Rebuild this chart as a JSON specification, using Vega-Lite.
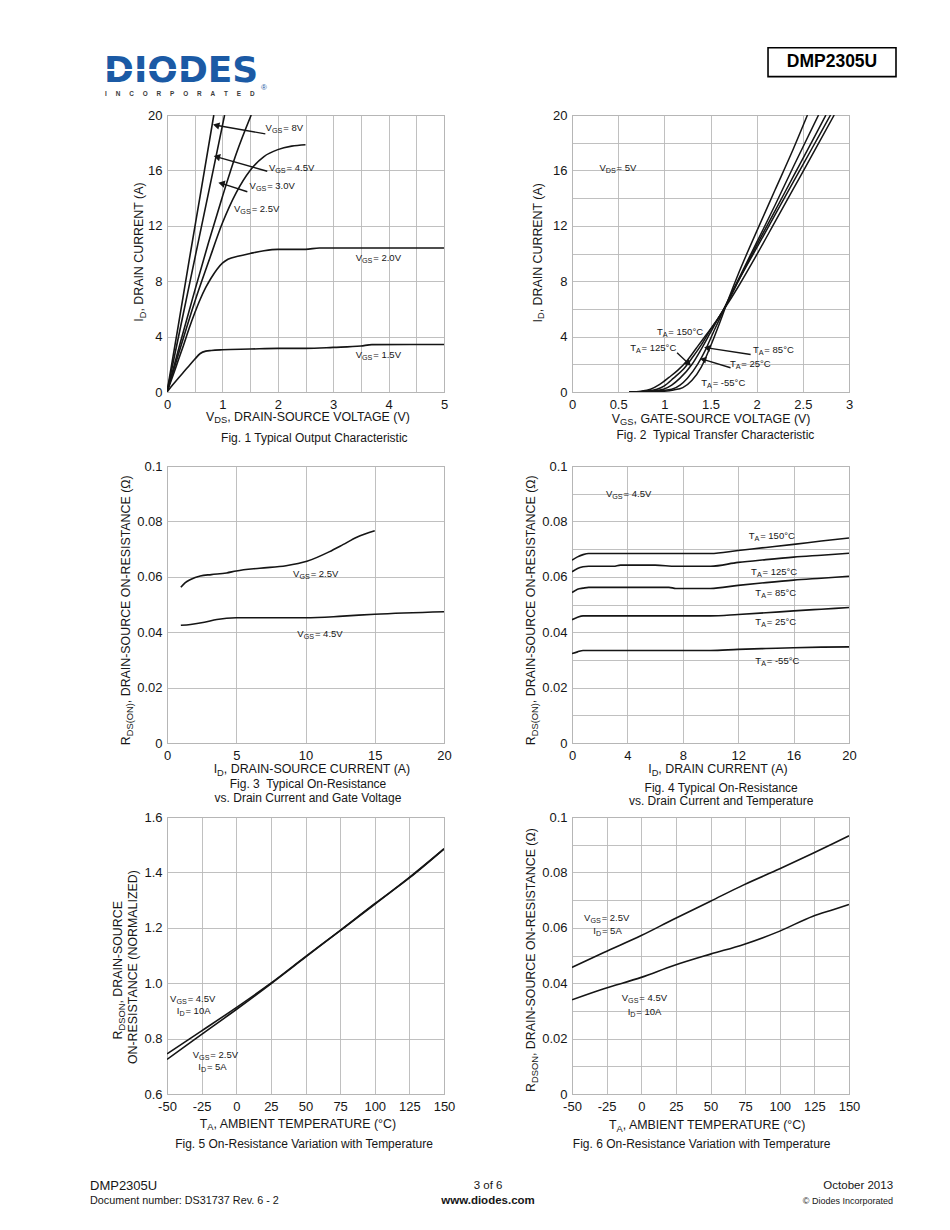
{
"$schema": "https://vega.github.io/schema/vega-lite/v6.json",
"autosize": {"type": "none"},
"padding": {"left": 167, "top": 115, "right": 783, "bottom": 1115},
"background": "#ffffff",
"columns": 2,
"bounds": "flush",
"spacing": {"row": 74, "column": 128},
"config": {
  "view": {"stroke": "#9a9a9a", "strokeWidth": 1},
  "axis": {"domain": false, "ticks": false, "grid": true, "gridColor": "#b9b9b9", "gridWidth": 0.9, "labelFont": "Liberation Sans", "labelFontSize": 13, "labelColor": "#161616", "labelPadding": 4, "labelOverlap": false, "labelFlush": false, "labelBound": false, "tickCount": 60},
  "axisX": {"labelPadding": 6},
  "axisY": {"labelPadding": 5},
  "text": {"font": "Liberation Sans", "color": "#161616"}
},
"datasets": {
  "one": [{"k": 1}],
  "c1": [
    {"s":"8V","x":0,"y":0},{"s":"8V","x":0.2,"y":4.7},{"s":"8V","x":0.4,"y":9.5},{"s":"8V","x":0.6,"y":14.2},{"s":"8V","x":0.845,"y":20},
    {"s":"4.5V","x":0,"y":0},{"s":"4.5V","x":0.25,"y":4.8},{"s":"4.5V","x":0.5,"y":9.6},{"s":"4.5V","x":0.75,"y":14.4},{"s":"4.5V","x":1.04,"y":20},
    {"s":"3.0V","x":0,"y":0},{"s":"3.0V","x":0.25,"y":3.7},{"s":"3.0V","x":0.5,"y":7.3},{"s":"3.0V","x":0.75,"y":10.8},{"s":"3.0V","x":1.0,"y":14.1},{"s":"3.0V","x":1.25,"y":17.2},{"s":"3.0V","x":1.52,"y":20},
    {"s":"2.5V","x":0,"y":0},{"s":"2.5V","x":0.25,"y":3.3},{"s":"2.5V","x":0.5,"y":6.5},{"s":"2.5V","x":0.75,"y":9.4},{"s":"2.5V","x":1.0,"y":12.2},{"s":"2.5V","x":1.25,"y":14.4},{"s":"2.5V","x":1.5,"y":16.0},{"s":"2.5V","x":1.75,"y":17.0},{"s":"2.5V","x":2.0,"y":17.5},{"s":"2.5V","x":2.25,"y":17.75},{"s":"2.5V","x":2.5,"y":17.85},
    {"s":"2.0V","x":0,"y":0},{"s":"2.0V","x":0.1,"y":1.1},{"s":"2.0V","x":0.2,"y":2.25},{"s":"2.0V","x":0.3,"y":3.4},{"s":"2.0V","x":0.4,"y":4.6},{"s":"2.0V","x":0.5,"y":5.7},{"s":"2.0V","x":0.6,"y":6.7},{"s":"2.0V","x":0.7,"y":7.55},{"s":"2.0V","x":0.8,"y":8.25},{"s":"2.0V","x":0.9,"y":8.85},{"s":"2.0V","x":1.0,"y":9.3},{"s":"2.0V","x":1.1,"y":9.58},{"s":"2.0V","x":1.3,"y":9.82},{"s":"2.0V","x":1.5,"y":10.0},{"s":"2.0V","x":1.75,"y":10.2},{"s":"2.0V","x":2.0,"y":10.3},{"s":"2.0V","x":2.5,"y":10.3},{"s":"2.0V","x":2.75,"y":10.4},{"s":"2.0V","x":5,"y":10.4},
    {"s":"1.5V","x":0,"y":0},{"s":"1.5V","x":0.1,"y":0.5},{"s":"1.5V","x":0.2,"y":0.98},{"s":"1.5V","x":0.3,"y":1.44},{"s":"1.5V","x":0.4,"y":1.9},{"s":"1.5V","x":0.5,"y":2.36},{"s":"1.5V","x":0.6,"y":2.78},{"s":"1.5V","x":0.7,"y":2.95},{"s":"1.5V","x":0.8,"y":3.0},{"s":"1.5V","x":1.0,"y":3.05},{"s":"1.5V","x":1.5,"y":3.1},{"s":"1.5V","x":2.0,"y":3.15},{"s":"1.5V","x":2.5,"y":3.15},{"s":"1.5V","x":3.0,"y":3.22},{"s":"1.5V","x":3.5,"y":3.32},{"s":"1.5V","x":3.7,"y":3.42},{"s":"1.5V","x":5.0,"y":3.43}
  ],
  "l1": [
    {"t":"VGS","x":1.78,"y":19.03,"r":"\u00a0= 8V"},{"t":"VGS","x":1.84,"y":16.2,"r":"\u00a0= 4.5V"},{"t":"VGS","x":1.49,"y":14.86,"r":"\u00a0= 3.0V"},
    {"t":"VGS","x":1.21,"y":13.18,"r":"\u00a0= 2.5V"},{"t":"VGS","x":3.405,"y":9.64,"r":"\u00a0= 2.0V"},{"t":"VGS","x":3.405,"y":2.65,"r":"\u00a0= 1.5V"}
  ],
  "a1": [
    {"xa":1.775,"ya":18.64,"xb":0.887,"yb":19.26},{"xa":1.81,"ya":15.94,"xb":0.9,"yb":16.98},{"xa":1.45,"ya":14.46,"xb":0.984,"yb":15.06}
  ],
  "c2": [
    {"s":"-55","x":0.62,"y":0},{"s":"-55","x":0.9,"y":0.02},{"s":"-55","x":1.0,"y":0.06},{"s":"-55","x":1.1,"y":0.15},{"s":"-55","x":1.2,"y":0.32},{"s":"-55","x":1.3,"y":0.85},{"s":"-55","x":1.4,"y":1.8},{"s":"-55","x":1.5,"y":3.3},{"s":"-55","x":1.6,"y":5.0},{"s":"-55","x":1.7,"y":6.8},{"s":"-55","x":1.8,"y":8.5},{"s":"-55","x":2.0,"y":11.6},{"s":"-55","x":2.2,"y":14.6},{"s":"-55","x":2.4,"y":17.6},{"s":"-55","x":2.55,"y":20},
    {"s":"25","x":0.62,"y":0},{"s":"25","x":0.9,"y":0.06},{"s":"25","x":1.08,"y":0.2},{"s":"25","x":1.17,"y":0.5},{"s":"25","x":1.25,"y":1.0},{"s":"25","x":1.36,"y":2.0},{"s":"25","x":1.45,"y":3.1},{"s":"25","x":1.53,"y":4.3},{"s":"25","x":1.6,"y":5.3},{"s":"25","x":1.65,"y":6.05},{"s":"25","x":1.8,"y":8.1},{"s":"25","x":2.0,"y":10.8},{"s":"25","x":2.2,"y":13.5},{"s":"25","x":2.4,"y":16.3},{"s":"25","x":2.67,"y":20},
    {"s":"85","x":0.62,"y":0},{"s":"85","x":0.85,"y":0.06},{"s":"85","x":0.99,"y":0.2},{"s":"85","x":1.08,"y":0.5},{"s":"85","x":1.17,"y":1.0},{"s":"85","x":1.3,"y":2.0},{"s":"85","x":1.4,"y":3.1},{"s":"85","x":1.5,"y":4.3},{"s":"85","x":1.6,"y":5.5},{"s":"85","x":1.65,"y":6.05},{"s":"85","x":1.8,"y":8.0},{"s":"85","x":2.0,"y":10.6},{"s":"85","x":2.2,"y":13.1},{"s":"85","x":2.4,"y":15.6},{"s":"85","x":2.6,"y":18.1},{"s":"85","x":2.75,"y":20},
    {"s":"125","x":0.62,"y":0},{"s":"125","x":0.8,"y":0.06},{"s":"125","x":0.92,"y":0.2},{"s":"125","x":1.0,"y":0.45},{"s":"125","x":1.1,"y":1.0},{"s":"125","x":1.2,"y":1.6},{"s":"125","x":1.3,"y":2.45},{"s":"125","x":1.4,"y":3.4},{"s":"125","x":1.5,"y":4.5},{"s":"125","x":1.6,"y":5.5},{"s":"125","x":1.65,"y":6.05},{"s":"125","x":1.8,"y":8.0},{"s":"125","x":2.0,"y":10.4},{"s":"125","x":2.2,"y":12.8},{"s":"125","x":2.4,"y":15.2},{"s":"125","x":2.6,"y":17.6},{"s":"125","x":2.8,"y":20},
    {"s":"150","x":0.62,"y":0},{"s":"150","x":0.75,"y":0.06},{"s":"150","x":0.85,"y":0.2},{"s":"150","x":0.95,"y":0.55},{"s":"150","x":1.05,"y":1.05},{"s":"150","x":1.15,"y":1.6},{"s":"150","x":1.25,"y":2.3},{"s":"150","x":1.35,"y":3.2},{"s":"150","x":1.45,"y":4.1},{"s":"150","x":1.55,"y":5.0},{"s":"150","x":1.65,"y":6.0},{"s":"150","x":1.8,"y":7.6},{"s":"150","x":2.0,"y":9.9},{"s":"150","x":2.2,"y":12.3},{"s":"150","x":2.4,"y":14.7},{"s":"150","x":2.6,"y":17.1},{"s":"150","x":2.84,"y":20}
  ],
  "l2": [
    {"t":"VDS","x":0.297,"y":16.19,"r":"\u00a0= 5V"},{"t":"TA","x":0.92,"y":4.32,"r":"\u00a0= 150°C"},{"t":"TA","x":0.63,"y":3.19,"r":"\u00a0= 125°C"},
    {"t":"TA","x":1.96,"y":3.0,"r":"\u00a0= 85°C"},{"t":"TA","x":1.71,"y":2.04,"r":"\u00a0= 25°C"},{"t":"TA","x":1.4,"y":0.66,"r":"\u00a0= -55°C"}
  ],
  "a2": [
    {"k":"L","xa":1.935,"ya":2.71,"xb":1.464,"yb":3.19},{"k":"L","xa":1.717,"ya":1.75,"xb":1.42,"yb":2.35},{"k":"R","xa":1.138,"ya":2.83,"xb":1.264,"yb":2.04}
  ],
  "c3": [
    {"s":"2.5V","x":1.0,"y":0.0562},{"s":"2.5V","x":1.3,"y":0.0578},{"s":"2.5V","x":1.7,"y":0.059},{"s":"2.5V","x":2.4,"y":0.0603},{"s":"2.5V","x":3.2,"y":0.0608},{"s":"2.5V","x":4.3,"y":0.0614},{"s":"2.5V","x":5.0,"y":0.0621},{"s":"2.5V","x":6.7,"y":0.0631},{"s":"2.5V","x":8.6,"y":0.064},{"s":"2.5V","x":10.1,"y":0.0656},{"s":"2.5V","x":11.7,"y":0.069},{"s":"2.5V","x":12.7,"y":0.0716},{"s":"2.5V","x":13.7,"y":0.0743},{"s":"2.5V","x":15.0,"y":0.0766},
    {"s":"4.5V","x":1.0,"y":0.0425},{"s":"4.5V","x":1.7,"y":0.0428},{"s":"4.5V","x":2.7,"y":0.0436},{"s":"4.5V","x":3.6,"y":0.0446},{"s":"4.5V","x":5.0,"y":0.0452},{"s":"4.5V","x":10.0,"y":0.0452},{"s":"4.5V","x":12.7,"y":0.0458},{"s":"4.5V","x":15.0,"y":0.0465},{"s":"4.5V","x":20,"y":0.0474}
  ],
  "l3": [
    {"t":"VGS","x":9.1,"y":0.0609,"r":"\u00a0= 2.5V"},{"t":"VGS","x":9.41,"y":0.0392,"r":"\u00a0= 4.5V"}
  ],
  "c4": [
    {"s":"150","x":0,"y":0.066},{"s":"150","x":0.4,"y":0.0672},{"s":"150","x":0.8,"y":0.068},{"s":"150","x":1.2,"y":0.0684},{"s":"150","x":10,"y":0.0684},{"s":"150","x":12,"y":0.0695},{"s":"150","x":14,"y":0.0706},{"s":"150","x":16,"y":0.0717},{"s":"150","x":18,"y":0.0729},{"s":"150","x":20,"y":0.074},
    {"s":"125","x":0,"y":0.0618},{"s":"125","x":0.4,"y":0.063},{"s":"125","x":0.8,"y":0.0636},{"s":"125","x":1.2,"y":0.0638},{"s":"125","x":3,"y":0.0638},{"s":"125","x":3.5,"y":0.0642},{"s":"125","x":6,"y":0.0642},{"s":"125","x":7.5,"y":0.0638},{"s":"125","x":10,"y":0.0638},{"s":"125","x":12,"y":0.0652},{"s":"125","x":14,"y":0.0662},{"s":"125","x":16,"y":0.0671},{"s":"125","x":18,"y":0.0678},{"s":"125","x":20,"y":0.0685},
    {"s":"85","x":0,"y":0.0543},{"s":"85","x":0.4,"y":0.0555},{"s":"85","x":0.8,"y":0.0559},{"s":"85","x":1.2,"y":0.0562},{"s":"85","x":7,"y":0.0562},{"s":"85","x":7.5,"y":0.0558},{"s":"85","x":10,"y":0.0558},{"s":"85","x":12,"y":0.0569},{"s":"85","x":14,"y":0.0579},{"s":"85","x":16,"y":0.0588},{"s":"85","x":18,"y":0.0595},{"s":"85","x":20,"y":0.0602},
    {"s":"25","x":0,"y":0.0445},{"s":"25","x":0.4,"y":0.0454},{"s":"25","x":0.8,"y":0.0459},{"s":"25","x":10,"y":0.0459},{"s":"25","x":12,"y":0.0464},{"s":"25","x":14,"y":0.047},{"s":"25","x":16,"y":0.0477},{"s":"25","x":18,"y":0.0483},{"s":"25","x":20,"y":0.0489},
    {"s":"-55","x":0,"y":0.0323},{"s":"-55","x":0.4,"y":0.0329},{"s":"-55","x":0.8,"y":0.0334},{"s":"-55","x":10,"y":0.0334},{"s":"-55","x":12,"y":0.0338},{"s":"-55","x":14,"y":0.0341},{"s":"-55","x":16,"y":0.0344},{"s":"-55","x":18,"y":0.0346},{"s":"-55","x":20,"y":0.0347}
  ],
  "l4": [
    {"t":"VGS","x":2.45,"y":0.0898,"r":"\u00a0= 4.5V"},{"t":"TA","x":12.76,"y":0.0748,"r":"\u00a0= 150°C"},{"t":"TA","x":12.93,"y":0.0619,"r":"\u00a0= 125°C"},
    {"t":"TA","x":13.24,"y":0.0541,"r":"\u00a0= 85°C"},{"t":"TA","x":13.24,"y":0.0436,"r":"\u00a0= 25°C"},{"t":"TA","x":13.24,"y":0.0295,"r":"\u00a0= -55°C"}
  ],
  "c5": [
    {"s":"4.5V","x":-50,"y":0.745},{"s":"4.5V","x":-25,"y":0.828},{"s":"4.5V","x":0,"y":0.912},{"s":"4.5V","x":25,"y":1.0},{"s":"4.5V","x":50,"y":1.096},{"s":"4.5V","x":75,"y":1.19},{"s":"4.5V","x":100,"y":1.285},{"s":"4.5V","x":125,"y":1.382},{"s":"4.5V","x":150,"y":1.485},
    {"s":"2.5V","x":-50,"y":0.725},{"s":"2.5V","x":-25,"y":0.815},{"s":"2.5V","x":0,"y":0.905},{"s":"2.5V","x":25,"y":0.998},{"s":"2.5V","x":50,"y":1.094},{"s":"2.5V","x":75,"y":1.19},{"s":"2.5V","x":100,"y":1.287},{"s":"2.5V","x":125,"y":1.38},{"s":"2.5V","x":150,"y":1.485}
  ],
  "l5": [
    {"t":"VGS","x":-47.8,"y":0.944,"r":"\u00a0= 4.5V"},{"t":"ID","x":-42.9,"y":0.9,"r":"\u00a0= 10A"},{"t":"VGS","x":-31.4,"y":0.741,"r":"\u00a0= 2.5V"},{"t":"ID","x":-27.4,"y":0.696,"r":"\u00a0= 5A"}
  ],
  "c6": [
    {"s":"2.5V","x":-50,"y":0.0457},{"s":"2.5V","x":-27,"y":0.0511},{"s":"2.5V","x":0,"y":0.0572},{"s":"2.5V","x":23,"y":0.063},{"s":"2.5V","x":50,"y":0.0696},{"s":"2.5V","x":74,"y":0.0755},{"s":"2.5V","x":100,"y":0.0813},{"s":"2.5V","x":124,"y":0.0869},{"s":"2.5V","x":139,"y":0.0905},{"s":"2.5V","x":150,"y":0.0932},
    {"s":"4.5V","x":-50,"y":0.034},{"s":"4.5V","x":-27,"y":0.038},{"s":"4.5V","x":0,"y":0.0421},{"s":"4.5V","x":23,"y":0.0463},{"s":"4.5V","x":50,"y":0.0505},{"s":"4.5V","x":74,"y":0.054},{"s":"4.5V","x":100,"y":0.0588},{"s":"4.5V","x":124,"y":0.0642},{"s":"4.5V","x":139,"y":0.0666},{"s":"4.5V","x":150,"y":0.0684}
  ],
  "l6": [
    {"t":"VGS","x":-41.3,"y":0.0635,"r":"\u00a0= 2.5V"},{"t":"ID","x":-34.6,"y":0.0587,"r":"\u00a0= 5A"},{"t":"VGS","x":-14.1,"y":0.0345,"r":"\u00a0= 4.5V"},{"t":"ID","x":-9.8,"y":0.0295,"r":"\u00a0= 10A"}
  ]
},
"concat": [
{
  "width": 277, "height": 277,
  "layer": [
    {"data": {"name": "c1"}, "mark": {"type": "line", "clip": true, "interpolate": "monotone", "color": "#151515", "strokeWidth": 1.6},
     "encoding": {
       "x": {"field": "x", "type": "quantitative", "scale": {"domain": [0, 5], "nice": false, "zero": false}, "axis": {"title": null, "tickCount": 60, "labelOverlap": false, "values": [0,0.5,1,1.5,2,2.5,3,3.5,4,4.5,5], "labelExpr": "datum.value % 1 === 0 ? '' + datum.value : ''"}},
       "y": {"field": "y", "type": "quantitative", "scale": {"domain": [0, 20], "nice": false, "zero": false}, "axis": {"title": null, "tickCount": 60, "labelOverlap": false, "values": [0,4,8,12,16,20], "labelExpr": "'' + datum.value"}},
       "detail": {"field": "s", "type": "nominal"}}},
    {"data": {"name": "l1"}, "mark": {"type": "text", "text": "V", "align": "left", "baseline": "middle", "fontSize": 9.5}, "encoding": {"x": {"field": "x", "type": "quantitative"}, "y": {"field": "y", "type": "quantitative"}}},
    {"data": {"name": "l1"}, "mark": {"type": "text", "text": "GS", "align": "left", "baseline": "middle", "fontSize": 7.2, "dx": 6.34, "dy": 3}, "encoding": {"x": {"field": "x", "type": "quantitative"}, "y": {"field": "y", "type": "quantitative"}}},
    {"data": {"name": "l1"}, "mark": {"type": "text", "align": "left", "baseline": "middle", "fontSize": 9.5, "dx": 17.6}, "encoding": {"x": {"field": "x", "type": "quantitative"}, "y": {"field": "y", "type": "quantitative"}, "text": {"field": "r"}}},
    {"data": {"name": "a1"}, "mark": {"type": "rule", "color": "#151515", "strokeWidth": 1.4}, "encoding": {"x": {"field": "xa", "type": "quantitative"}, "y": {"field": "ya", "type": "quantitative"}, "x2": {"field": "xb"}, "y2": {"field": "yb"}}},
    {"data": {"name": "a1"}, "mark": {"type": "point", "shape": "triangle-left", "filled": true, "size": 55, "angle": 14, "color": "#151515", "opacity": 1}, "encoding": {"x": {"field": "xb", "type": "quantitative"}, "y": {"field": "yb", "type": "quantitative"}}},
    {"data": {"name": "one"}, "mark": {"type": "text", "text": "V", "align": "left", "baseline": "middle", "fontSize": 12.4}, "encoding": {"x": {"datum": 0.703}, "y": {"datum": -1.77}}},
    {"data": {"name": "one"}, "mark": {"type": "text", "text": "DS", "align": "left", "baseline": "middle", "fontSize": 9.3, "dx": 8.27, "dy": 3.5}, "encoding": {"x": {"datum": 0.703}, "y": {"datum": -1.77}}},
    {"data": {"name": "one"}, "mark": {"type": "text", "text": ", DRAIN-SOURCE VOLTAGE (V)", "align": "left", "baseline": "middle", "fontSize": 12.4, "dx": 21.19}, "encoding": {"x": {"datum": 0.703}, "y": {"datum": -1.77}}},
    {"data": {"name": "one"}, "mark": {"type": "text", "text": "I", "angle": 270, "align": "left", "baseline": "middle", "fontSize": 12.4}, "encoding": {"x": {"datum": -0.504}, "y": {"datum": 5.07}}},
    {"data": {"name": "one"}, "mark": {"type": "text", "text": "D", "angle": 270, "align": "left", "baseline": "middle", "fontSize": 9.3, "dx": 3.45, "dy": 3.5}, "encoding": {"x": {"datum": -0.504}, "y": {"datum": 5.07}}},
    {"data": {"name": "one"}, "mark": {"type": "text", "text": ", DRAIN CURRENT (A)", "angle": 270, "align": "left", "baseline": "middle", "fontSize": 12.4, "dx": 10.16}, "encoding": {"x": {"datum": -0.504}, "y": {"datum": 5.07}}},
    {"data": {"name": "one"}, "mark": {"type": "text", "text": "Fig. 1 Typical Output Characteristic", "align": "center", "baseline": "middle", "fontSize": 12}, "encoding": {"x": {"datum": 2.66}, "y": {"datum": -3.29}}},
    {"data": {"name": "one"}, "mark": {"type": "text", "text": "DIODES", "font": "DejaVu Sans", "fontWeight": "bold", "fontSize": 36, "align": "left", "baseline": "alphabetic", "color": "#1b5aa5"}, "encoding": {"x": {"datum": -1.137}, "y": {"datum": 22.35}}},
    {"data": {"name": "one"}, "mark": {"type": "rule", "color": "#ffffff", "strokeWidth": 1.8}, "encoding": {"x": {"datum": -1.12}, "x2": {"datum": 0.56}, "y": {"datum": 23.25}}},
    {"data": {"name": "one"}, "mark": {"type": "text", "text": "I\u00a0\u00a0\u00a0\u00a0\u00a0N\u00a0\u00a0\u00a0\u00a0\u00a0C\u00a0\u00a0\u00a0\u00a0\u00a0O\u00a0\u00a0\u00a0\u00a0\u00a0R\u00a0\u00a0\u00a0\u00a0\u00a0P\u00a0\u00a0\u00a0\u00a0\u00a0O\u00a0\u00a0\u00a0\u00a0\u00a0R\u00a0\u00a0\u00a0\u00a0\u00a0A\u00a0\u00a0\u00a0\u00a0\u00a0T\u00a0\u00a0\u00a0\u00a0\u00a0E\u00a0\u00a0\u00a0\u00a0\u00a0D", "font": "Liberation Sans", "fontWeight": "bold", "fontSize": 6.4, "align": "left", "baseline": "middle", "color": "#3a3a3a"}, "encoding": {"x": {"datum": -1.119}, "y": {"datum": 21.55}}},
    {"data": {"name": "one"}, "mark": {"type": "text", "text": "®", "fontSize": 8, "align": "left", "baseline": "middle", "color": "#1b5aa5"}, "encoding": {"x": {"datum": 1.697}, "y": {"datum": 21.95}}}
  ]
},
{
  "width": 277, "height": 277,
  "layer": [
    {"data": {"name": "c2"}, "mark": {"type": "line", "clip": true, "interpolate": "monotone", "color": "#151515", "strokeWidth": 1.5},
     "encoding": {
       "x": {"field": "x", "type": "quantitative", "scale": {"domain": [0, 3], "nice": false, "zero": false}, "axis": {"title": null, "tickCount": 60, "labelOverlap": false, "values": [0,0.5,1,1.5,2,2.5,3], "labelExpr": "'' + datum.value"}},
       "y": {"field": "y", "type": "quantitative", "scale": {"domain": [0, 20], "nice": false, "zero": false}, "axis": {"title": null, "tickCount": 60, "labelOverlap": false, "values": [0,2,4,6,8,10,12,14,16,18,20], "labelExpr": "datum.value % 4 === 0 ? '' + datum.value : ''"}},
       "detail": {"field": "s", "type": "nominal"}}},
    {"data": {"name": "l2"}, "transform": [{"filter": "datum.t === 'VDS'"}], "mark": {"type": "text", "text": "V", "align": "left", "baseline": "middle", "fontSize": 9.5}, "encoding": {"x": {"field": "x", "type": "quantitative"}, "y": {"field": "y", "type": "quantitative"}}},
    {"data": {"name": "l2"}, "transform": [{"filter": "datum.t === 'VDS'"}], "mark": {"type": "text", "text": "DS", "align": "left", "baseline": "middle", "fontSize": 7.2, "dx": 6.34, "dy": 3}, "encoding": {"x": {"field": "x", "type": "quantitative"}, "y": {"field": "y", "type": "quantitative"}}},
    {"data": {"name": "l2"}, "transform": [{"filter": "datum.t === 'VDS'"}], "mark": {"type": "text", "align": "left", "baseline": "middle", "fontSize": 9.5, "dx": 17.2}, "encoding": {"x": {"field": "x", "type": "quantitative"}, "y": {"field": "y", "type": "quantitative"}, "text": {"field": "r"}}},
    {"data": {"name": "l2"}, "transform": [{"filter": "datum.t === 'TA'"}], "mark": {"type": "text", "text": "T", "align": "left", "baseline": "middle", "fontSize": 9.5}, "encoding": {"x": {"field": "x", "type": "quantitative"}, "y": {"field": "y", "type": "quantitative"}}},
    {"data": {"name": "l2"}, "transform": [{"filter": "datum.t === 'TA'"}], "mark": {"type": "text", "text": "A", "align": "left", "baseline": "middle", "fontSize": 7.2, "dx": 5.8, "dy": 3}, "encoding": {"x": {"field": "x", "type": "quantitative"}, "y": {"field": "y", "type": "quantitative"}}},
    {"data": {"name": "l2"}, "transform": [{"filter": "datum.t === 'TA'"}], "mark": {"type": "text", "align": "left", "baseline": "middle", "fontSize": 9.5, "dx": 11.4}, "encoding": {"x": {"field": "x", "type": "quantitative"}, "y": {"field": "y", "type": "quantitative"}, "text": {"field": "r"}}},
    {"data": {"name": "a2"}, "mark": {"type": "rule", "color": "#151515", "strokeWidth": 1.4}, "encoding": {"x": {"field": "xa", "type": "quantitative"}, "y": {"field": "ya", "type": "quantitative"}, "x2": {"field": "xb"}, "y2": {"field": "yb"}}},
    {"data": {"name": "a2"}, "transform": [{"filter": "datum.k === 'L'"}], "mark": {"type": "point", "shape": "triangle-left", "filled": true, "size": 50, "angle": 13, "color": "#151515", "opacity": 1}, "encoding": {"x": {"field": "xb", "type": "quantitative"}, "y": {"field": "yb", "type": "quantitative"}}},
    {"data": {"name": "a2"}, "transform": [{"filter": "datum.k === 'R'"}], "mark": {"type": "point", "shape": "triangle-right", "filled": true, "size": 50, "angle": 43, "color": "#151515", "opacity": 1}, "encoding": {"x": {"field": "xb", "type": "quantitative"}, "y": {"field": "yb", "type": "quantitative"}}},
    {"data": {"name": "one"}, "mark": {"type": "text", "text": "V", "align": "left", "baseline": "middle", "fontSize": 12.4}, "encoding": {"x": {"datum": 0.431}, "y": {"datum": -1.94}}},
    {"data": {"name": "one"}, "mark": {"type": "text", "text": "GS", "align": "left", "baseline": "middle", "fontSize": 9.3, "dx": 8.27, "dy": 3.5}, "encoding": {"x": {"datum": 0.431}, "y": {"datum": -1.94}}},
    {"data": {"name": "one"}, "mark": {"type": "text", "text": ", GATE-SOURCE VOLTAGE (V)", "align": "left", "baseline": "middle", "fontSize": 12.4, "dx": 21.71}, "encoding": {"x": {"datum": 0.431}, "y": {"datum": -1.94}}},
    {"data": {"name": "one"}, "mark": {"type": "text", "text": "I", "angle": 270, "align": "left", "baseline": "middle", "fontSize": 12.4}, "encoding": {"x": {"datum": -0.369}, "y": {"datum": 5.02}}},
    {"data": {"name": "one"}, "mark": {"type": "text", "text": "D", "angle": 270, "align": "left", "baseline": "middle", "fontSize": 9.3, "dx": 3.45, "dy": 3.5}, "encoding": {"x": {"datum": -0.369}, "y": {"datum": 5.02}}},
    {"data": {"name": "one"}, "mark": {"type": "text", "text": ", DRAIN CURRENT (A)", "angle": 270, "align": "left", "baseline": "middle", "fontSize": 12.4, "dx": 10.16}, "encoding": {"x": {"datum": -0.369}, "y": {"datum": 5.02}}},
    {"data": {"name": "one"}, "mark": {"type": "text", "text": "Fig. 2\u00a0 Typical Transfer Characteristic", "align": "center", "baseline": "middle", "fontSize": 12}, "encoding": {"x": {"datum": 1.553}, "y": {"datum": -3.14}}},
    {"data": {"name": "one"}, "mark": {"type": "rect", "fill": "#ffffff", "stroke": "#000000", "strokeWidth": 1.6}, "encoding": {"x": {"datum": 2.123}, "x2": {"datum": 3.509}, "y": {"datum": 22.77}, "y2": {"datum": 24.86}}},
    {"data": {"name": "one"}, "mark": {"type": "text", "text": "DMP2305U", "font": "Liberation Sans", "fontWeight": "bold", "fontSize": 17.5, "align": "center", "baseline": "middle", "color": "#000000"}, "encoding": {"x": {"datum": 2.816}, "y": {"datum": 23.8}}}
  ]
},
{
  "width": 277, "height": 277,
  "layer": [
    {"data": {"name": "c3"}, "mark": {"type": "line", "clip": true, "interpolate": "monotone", "color": "#151515", "strokeWidth": 1.6},
     "encoding": {
       "x": {"field": "x", "type": "quantitative", "scale": {"domain": [0, 20], "nice": false, "zero": false}, "axis": {"title": null, "tickCount": 60, "labelOverlap": false, "values": [0,5,10,15,20], "labelExpr": "'' + datum.value"}},
       "y": {"field": "y", "type": "quantitative", "scale": {"domain": [0, 0.1], "nice": false, "zero": false}, "axis": {"title": null, "tickCount": 60, "labelOverlap": false, "values": [0,0.02,0.04,0.06,0.08,0.1], "format": "~g"}},
       "detail": {"field": "s", "type": "nominal"}}},
    {"data": {"name": "l3"}, "mark": {"type": "text", "text": "V", "align": "left", "baseline": "middle", "fontSize": 9.5}, "encoding": {"x": {"field": "x", "type": "quantitative"}, "y": {"field": "y", "type": "quantitative"}}},
    {"data": {"name": "l3"}, "mark": {"type": "text", "text": "GS", "align": "left", "baseline": "middle", "fontSize": 7.2, "dx": 6.34, "dy": 3}, "encoding": {"x": {"field": "x", "type": "quantitative"}, "y": {"field": "y", "type": "quantitative"}}},
    {"data": {"name": "l3"}, "mark": {"type": "text", "align": "left", "baseline": "middle", "fontSize": 9.5, "dx": 17.6}, "encoding": {"x": {"field": "x", "type": "quantitative"}, "y": {"field": "y", "type": "quantitative"}, "text": {"field": "r"}}},
    {"data": {"name": "one"}, "mark": {"type": "text", "text": "I", "align": "left", "baseline": "middle", "fontSize": 12.4}, "encoding": {"x": {"datum": 3.37}, "y": {"datum": -0.0095}}},
    {"data": {"name": "one"}, "mark": {"type": "text", "text": "D", "align": "left", "baseline": "middle", "fontSize": 9.3, "dx": 3.45, "dy": 3.5}, "encoding": {"x": {"datum": 3.37}, "y": {"datum": -0.0095}}},
    {"data": {"name": "one"}, "mark": {"type": "text", "text": ", DRAIN-SOURCE CURRENT (A)", "align": "left", "baseline": "middle", "fontSize": 12.4, "dx": 10.16}, "encoding": {"x": {"datum": 3.37}, "y": {"datum": -0.0095}}},
    {"data": {"name": "one"}, "mark": {"type": "text", "text": "R", "angle": 270, "align": "left", "baseline": "middle", "fontSize": 12.4}, "encoding": {"x": {"datum": -2.94}, "y": {"datum": -0.0008}}},
    {"data": {"name": "one"}, "mark": {"type": "text", "text": "DS(ON)", "angle": 270, "align": "left", "baseline": "middle", "fontSize": 9.3, "dx": 8.95, "dy": 3.5}, "encoding": {"x": {"datum": -2.94}, "y": {"datum": -0.0008}}},
    {"data": {"name": "one"}, "mark": {"type": "text", "text": ", DRAIN-SOURCE ON-RESISTANCE (Ω)", "angle": 270, "align": "left", "baseline": "middle", "fontSize": 12.4, "dx": 42.01}, "encoding": {"x": {"datum": -2.94}, "y": {"datum": -0.0008}}},
    {"data": {"name": "one"}, "mark": {"type": "text", "text": "Fig. 3\u00a0 Typical On-Resistance", "align": "center", "baseline": "middle", "fontSize": 12}, "encoding": {"x": {"datum": 10.18}, "y": {"datum": -0.0149}}},
    {"data": {"name": "one"}, "mark": {"type": "text", "text": "vs. Drain Current and Gate Voltage", "align": "center", "baseline": "middle", "fontSize": 12}, "encoding": {"x": {"datum": 10.18}, "y": {"datum": -0.0197}}}
  ]
},
{
  "width": 277, "height": 277,
  "layer": [
    {"data": {"name": "c4"}, "mark": {"type": "line", "clip": true, "interpolate": "monotone", "color": "#151515", "strokeWidth": 1.6},
     "encoding": {
       "x": {"field": "x", "type": "quantitative", "scale": {"domain": [0, 20], "nice": false, "zero": false}, "axis": {"title": null, "tickCount": 60, "labelOverlap": false, "values": [0,4,8,12,16,20], "labelExpr": "'' + datum.value"}},
       "y": {"field": "y", "type": "quantitative", "scale": {"domain": [0, 0.1], "nice": false, "zero": false}, "axis": {"title": null, "tickCount": 60, "labelOverlap": false, "values": [0,0.01,0.02,0.03,0.04,0.05,0.06,0.07,0.08,0.09,0.1], "labelExpr": "round(datum.value * 100) % 2 === 0 ? format(datum.value, '~g') : ''"}},
       "detail": {"field": "s", "type": "nominal"}}},
    {"data": {"name": "l4"}, "transform": [{"filter": "datum.t === 'VGS'"}], "mark": {"type": "text", "text": "V", "align": "left", "baseline": "middle", "fontSize": 9.5}, "encoding": {"x": {"field": "x", "type": "quantitative"}, "y": {"field": "y", "type": "quantitative"}}},
    {"data": {"name": "l4"}, "transform": [{"filter": "datum.t === 'VGS'"}], "mark": {"type": "text", "text": "GS", "align": "left", "baseline": "middle", "fontSize": 7.2, "dx": 6.34, "dy": 3}, "encoding": {"x": {"field": "x", "type": "quantitative"}, "y": {"field": "y", "type": "quantitative"}}},
    {"data": {"name": "l4"}, "transform": [{"filter": "datum.t === 'VGS'"}], "mark": {"type": "text", "align": "left", "baseline": "middle", "fontSize": 9.5, "dx": 17.6}, "encoding": {"x": {"field": "x", "type": "quantitative"}, "y": {"field": "y", "type": "quantitative"}, "text": {"field": "r"}}},
    {"data": {"name": "l4"}, "transform": [{"filter": "datum.t === 'TA'"}], "mark": {"type": "text", "text": "T", "align": "left", "baseline": "middle", "fontSize": 9.5}, "encoding": {"x": {"field": "x", "type": "quantitative"}, "y": {"field": "y", "type": "quantitative"}}},
    {"data": {"name": "l4"}, "transform": [{"filter": "datum.t === 'TA'"}], "mark": {"type": "text", "text": "A", "align": "left", "baseline": "middle", "fontSize": 7.2, "dx": 5.8, "dy": 3}, "encoding": {"x": {"field": "x", "type": "quantitative"}, "y": {"field": "y", "type": "quantitative"}}},
    {"data": {"name": "l4"}, "transform": [{"filter": "datum.t === 'TA'"}], "mark": {"type": "text", "align": "left", "baseline": "middle", "fontSize": 9.5, "dx": 11.4}, "encoding": {"x": {"field": "x", "type": "quantitative"}, "y": {"field": "y", "type": "quantitative"}, "text": {"field": "r"}}},
    {"data": {"name": "one"}, "mark": {"type": "text", "text": "I", "align": "left", "baseline": "middle", "fontSize": 12.4}, "encoding": {"x": {"datum": 5.5}, "y": {"datum": -0.00946}}},
    {"data": {"name": "one"}, "mark": {"type": "text", "text": "D", "align": "left", "baseline": "middle", "fontSize": 9.3, "dx": 3.45, "dy": 3.5}, "encoding": {"x": {"datum": 5.5}, "y": {"datum": -0.00946}}},
    {"data": {"name": "one"}, "mark": {"type": "text", "text": ", DRAIN CURRENT (A)", "align": "left", "baseline": "middle", "fontSize": 12.4, "dx": 10.16}, "encoding": {"x": {"datum": 5.5}, "y": {"datum": -0.00946}}},
    {"data": {"name": "one"}, "mark": {"type": "text", "text": "R", "angle": 270, "align": "left", "baseline": "middle", "fontSize": 12.4}, "encoding": {"x": {"datum": -2.95}, "y": {"datum": -0.0008}}},
    {"data": {"name": "one"}, "mark": {"type": "text", "text": "DS(ON)", "angle": 270, "align": "left", "baseline": "middle", "fontSize": 9.3, "dx": 8.95, "dy": 3.5}, "encoding": {"x": {"datum": -2.95}, "y": {"datum": -0.0008}}},
    {"data": {"name": "one"}, "mark": {"type": "text", "text": ", DRAIN-SOURCE ON-RESISTANCE (Ω)", "angle": 270, "align": "left", "baseline": "middle", "fontSize": 12.4, "dx": 42.01}, "encoding": {"x": {"datum": -2.95}, "y": {"datum": -0.0008}}},
    {"data": {"name": "one"}, "mark": {"type": "text", "text": "Fig. 4 Typical On-Resistance", "align": "center", "baseline": "middle", "fontSize": 12}, "encoding": {"x": {"datum": 10.77}, "y": {"datum": -0.0161}}},
    {"data": {"name": "one"}, "mark": {"type": "text", "text": "vs. Drain Current and Temperature", "align": "center", "baseline": "middle", "fontSize": 12}, "encoding": {"x": {"datum": 10.77}, "y": {"datum": -0.0209}}}
  ]
},
{
  "width": 277, "height": 277,
  "layer": [
    {"data": {"name": "c5"}, "mark": {"type": "line", "clip": true, "interpolate": "monotone", "color": "#151515", "strokeWidth": 1.6},
     "encoding": {
       "x": {"field": "x", "type": "quantitative", "scale": {"domain": [-50, 150], "nice": false, "zero": false}, "axis": {"title": null, "tickCount": 60, "labelOverlap": false, "values": [-50,-25,0,25,50,75,100,125,150], "labelExpr": "'' + datum.value"}},
       "y": {"field": "y", "type": "quantitative", "scale": {"domain": [0.6, 1.6], "nice": false, "zero": false}, "axis": {"title": null, "tickCount": 60, "labelOverlap": false, "values": [0.6,0.8,1.0,1.2,1.4,1.6], "format": ".1f"}},
       "detail": {"field": "s", "type": "nominal"}}},
    {"data": {"name": "l5"}, "transform": [{"filter": "datum.t === 'VGS'"}], "mark": {"type": "text", "text": "V", "align": "left", "baseline": "middle", "fontSize": 9.5}, "encoding": {"x": {"field": "x", "type": "quantitative"}, "y": {"field": "y", "type": "quantitative"}}},
    {"data": {"name": "l5"}, "transform": [{"filter": "datum.t === 'VGS'"}], "mark": {"type": "text", "text": "GS", "align": "left", "baseline": "middle", "fontSize": 7.2, "dx": 6.34, "dy": 3}, "encoding": {"x": {"field": "x", "type": "quantitative"}, "y": {"field": "y", "type": "quantitative"}}},
    {"data": {"name": "l5"}, "transform": [{"filter": "datum.t === 'VGS'"}], "mark": {"type": "text", "align": "left", "baseline": "middle", "fontSize": 9.5, "dx": 17.6}, "encoding": {"x": {"field": "x", "type": "quantitative"}, "y": {"field": "y", "type": "quantitative"}, "text": {"field": "r"}}},
    {"data": {"name": "l5"}, "transform": [{"filter": "datum.t === 'ID'"}], "mark": {"type": "text", "text": "I", "align": "left", "baseline": "middle", "fontSize": 9.5}, "encoding": {"x": {"field": "x", "type": "quantitative"}, "y": {"field": "y", "type": "quantitative"}}},
    {"data": {"name": "l5"}, "transform": [{"filter": "datum.t === 'ID'"}], "mark": {"type": "text", "text": "D", "align": "left", "baseline": "middle", "fontSize": 7.2, "dx": 2.64, "dy": 3}, "encoding": {"x": {"field": "x", "type": "quantitative"}, "y": {"field": "y", "type": "quantitative"}}},
    {"data": {"name": "l5"}, "transform": [{"filter": "datum.t === 'ID'"}], "mark": {"type": "text", "align": "left", "baseline": "middle", "fontSize": 9.5, "dx": 8.6}, "encoding": {"x": {"field": "x", "type": "quantitative"}, "y": {"field": "y", "type": "quantitative"}, "text": {"field": "r"}}},
    {"data": {"name": "one"}, "mark": {"type": "text", "text": "T", "align": "left", "baseline": "middle", "fontSize": 12.4}, "encoding": {"x": {"datum": -26.4}, "y": {"datum": 0.492}}},
    {"data": {"name": "one"}, "mark": {"type": "text", "text": "A", "align": "left", "baseline": "middle", "fontSize": 9.3, "dx": 7.58, "dy": 3.5}, "encoding": {"x": {"datum": -26.4}, "y": {"datum": 0.492}}},
    {"data": {"name": "one"}, "mark": {"type": "text", "text": ", AMBIENT TEMPERATURE (°C)", "align": "left", "baseline": "middle", "fontSize": 12.4, "dx": 13.78}, "encoding": {"x": {"datum": -26.4}, "y": {"datum": 0.492}}},
    {"data": {"name": "one"}, "mark": {"type": "text", "text": "R", "angle": 270, "align": "left", "baseline": "middle", "fontSize": 12.4}, "encoding": {"x": {"datum": -85.2}, "y": {"datum": 0.797}}},
    {"data": {"name": "one"}, "mark": {"type": "text", "text": "DSON", "angle": 270, "align": "left", "baseline": "middle", "fontSize": 9.3, "dx": 8.95, "dy": 3.5}, "encoding": {"x": {"datum": -85.2}, "y": {"datum": 0.797}}},
    {"data": {"name": "one"}, "mark": {"type": "text", "text": ", DRAIN-SOURCE", "angle": 270, "align": "left", "baseline": "middle", "fontSize": 12.4, "dx": 35.82}, "encoding": {"x": {"datum": -85.2}, "y": {"datum": 0.797}}},
    {"data": {"name": "one"}, "mark": {"type": "text", "text": "ON-RESISTANCE (NORMALIZED)", "angle": 270, "align": "center", "baseline": "middle", "fontSize": 12.4}, "encoding": {"x": {"datum": -74.3}, "y": {"datum": 1.058}}},
    {"data": {"name": "one"}, "mark": {"type": "text", "text": "Fig. 5 On-Resistance Variation with Temperature", "align": "center", "baseline": "middle", "fontSize": 12}, "encoding": {"x": {"datum": 48.9}, "y": {"datum": 0.419}}},
    {"data": {"name": "one"}, "mark": {"type": "text", "text": "DMP2305U", "align": "left", "baseline": "middle", "fontSize": 13}, "encoding": {"x": {"datum": -105.6}, "y": {"datum": 0.268}}},
    {"data": {"name": "one"}, "mark": {"type": "text", "text": "Document number: DS31737 Rev. 6 - 2", "align": "left", "baseline": "middle", "fontSize": 10.8}, "encoding": {"x": {"datum": -105.6}, "y": {"datum": 0.214}}},
    {"data": {"name": "one"}, "mark": {"type": "text", "text": "3 of 6", "align": "center", "baseline": "middle", "fontSize": 11.5}, "encoding": {"x": {"datum": 181.8}, "y": {"datum": 0.268}}},
    {"data": {"name": "one"}, "mark": {"type": "text", "text": "www.diodes.com", "fontWeight": "bold", "align": "center", "baseline": "middle", "fontSize": 11.5}, "encoding": {"x": {"datum": 181.8}, "y": {"datum": 0.214}}}
  ]
},
{
  "width": 277, "height": 277,
  "layer": [
    {"data": {"name": "c6"}, "mark": {"type": "line", "clip": true, "interpolate": "monotone", "color": "#151515", "strokeWidth": 1.6},
     "encoding": {
       "x": {"field": "x", "type": "quantitative", "scale": {"domain": [-50, 150], "nice": false, "zero": false}, "axis": {"title": null, "tickCount": 60, "labelOverlap": false, "values": [-50,-25,0,25,50,75,100,125,150], "labelExpr": "'' + datum.value"}},
       "y": {"field": "y", "type": "quantitative", "scale": {"domain": [0, 0.1], "nice": false, "zero": false}, "axis": {"title": null, "tickCount": 60, "labelOverlap": false, "values": [0,0.01,0.02,0.03,0.04,0.05,0.06,0.07,0.08,0.09,0.1], "labelExpr": "round(datum.value * 100) % 2 === 0 ? format(datum.value, '~g') : ''"}},
       "detail": {"field": "s", "type": "nominal"}}},
    {"data": {"name": "l6"}, "transform": [{"filter": "datum.t === 'VGS'"}], "mark": {"type": "text", "text": "V", "align": "left", "baseline": "middle", "fontSize": 9.5}, "encoding": {"x": {"field": "x", "type": "quantitative"}, "y": {"field": "y", "type": "quantitative"}}},
    {"data": {"name": "l6"}, "transform": [{"filter": "datum.t === 'VGS'"}], "mark": {"type": "text", "text": "GS", "align": "left", "baseline": "middle", "fontSize": 7.2, "dx": 6.34, "dy": 3}, "encoding": {"x": {"field": "x", "type": "quantitative"}, "y": {"field": "y", "type": "quantitative"}}},
    {"data": {"name": "l6"}, "transform": [{"filter": "datum.t === 'VGS'"}], "mark": {"type": "text", "align": "left", "baseline": "middle", "fontSize": 9.5, "dx": 17.6}, "encoding": {"x": {"field": "x", "type": "quantitative"}, "y": {"field": "y", "type": "quantitative"}, "text": {"field": "r"}}},
    {"data": {"name": "l6"}, "transform": [{"filter": "datum.t === 'ID'"}], "mark": {"type": "text", "text": "I", "align": "left", "baseline": "middle", "fontSize": 9.5}, "encoding": {"x": {"field": "x", "type": "quantitative"}, "y": {"field": "y", "type": "quantitative"}}},
    {"data": {"name": "l6"}, "transform": [{"filter": "datum.t === 'ID'"}], "mark": {"type": "text", "text": "D", "align": "left", "baseline": "middle", "fontSize": 7.2, "dx": 2.64, "dy": 3}, "encoding": {"x": {"field": "x", "type": "quantitative"}, "y": {"field": "y", "type": "quantitative"}}},
    {"data": {"name": "l6"}, "transform": [{"filter": "datum.t === 'ID'"}], "mark": {"type": "text", "align": "left", "baseline": "middle", "fontSize": 9.5, "dx": 8.6}, "encoding": {"x": {"field": "x", "type": "quantitative"}, "y": {"field": "y", "type": "quantitative"}, "text": {"field": "r"}}},
    {"data": {"name": "one"}, "mark": {"type": "text", "text": "T", "align": "left", "baseline": "middle", "fontSize": 12.4}, "encoding": {"x": {"datum": -23.3}, "y": {"datum": -0.01134}}},
    {"data": {"name": "one"}, "mark": {"type": "text", "text": "A", "align": "left", "baseline": "middle", "fontSize": 9.3, "dx": 7.58, "dy": 3.5}, "encoding": {"x": {"datum": -23.3}, "y": {"datum": -0.01134}}},
    {"data": {"name": "one"}, "mark": {"type": "text", "text": ", AMBIENT TEMPERATURE (°C)", "align": "left", "baseline": "middle", "fontSize": 12.4, "dx": 13.78}, "encoding": {"x": {"datum": -23.3}, "y": {"datum": -0.01134}}},
    {"data": {"name": "one"}, "mark": {"type": "text", "text": "R", "angle": 270, "align": "left", "baseline": "middle", "fontSize": 12.4}, "encoding": {"x": {"datum": -79.6}, "y": {"datum": 0.00076}}},
    {"data": {"name": "one"}, "mark": {"type": "text", "text": "DSON", "angle": 270, "align": "left", "baseline": "middle", "fontSize": 9.3, "dx": 8.95, "dy": 3.5}, "encoding": {"x": {"datum": -79.6}, "y": {"datum": 0.00076}}},
    {"data": {"name": "one"}, "mark": {"type": "text", "text": ", DRAIN-SOURCE ON-RESISTANCE (Ω)", "angle": 270, "align": "left", "baseline": "middle", "fontSize": 12.4, "dx": 35.82}, "encoding": {"x": {"datum": -79.6}, "y": {"datum": 0.00076}}},
    {"data": {"name": "one"}, "mark": {"type": "text", "text": "Fig. 6 On-Resistance Variation with Temperature", "align": "center", "baseline": "middle", "fontSize": 12}, "encoding": {"x": {"datum": 43.6}, "y": {"datum": -0.0182}}},
    {"data": {"name": "one"}, "mark": {"type": "text", "text": "October 2013", "align": "right", "baseline": "middle", "fontSize": 11.5}, "encoding": {"x": {"datum": 181.8}, "y": {"datum": -0.0332}}},
    {"data": {"name": "one"}, "mark": {"type": "text", "text": "© Diodes Incorporated", "align": "right", "baseline": "middle", "fontSize": 9}, "encoding": {"x": {"datum": 181.8}, "y": {"datum": -0.0386}}}
  ]
}
]
}
